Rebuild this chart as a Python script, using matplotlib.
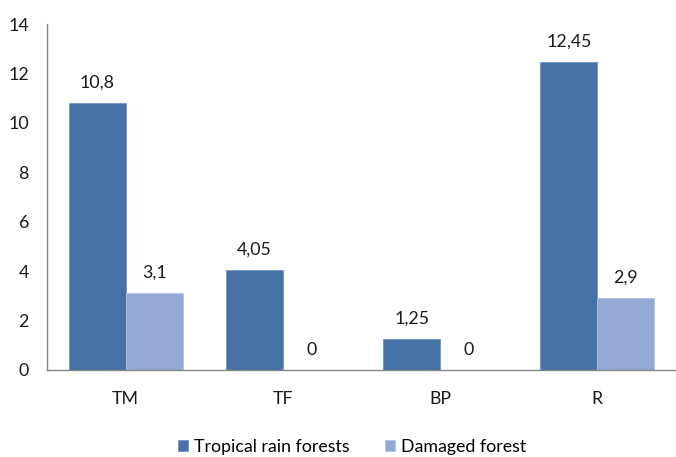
import matplotlib.pyplot as plt
import numpy as np

plt.rcParams['font.family'] = ['Lato', 'DejaVu Sans']

categories = ['TM', 'TF', 'BP', 'R']
rain_forest = [10.8, 4.05, 1.25, 12.45]
damaged = [3.1, 0, 0, 2.9]
rain_labels = ['10,8', '4,05', '1,25', '12,45']
damaged_labels = ['3,1', '0', '0', '2,9']

fig = plt.figure(figsize=(6.76, 4.57), dpi=100)
ax = fig.add_axes([47 / 676, 1 - 370 / 457, 629 / 676, 346 / 457])

x = np.arange(len(categories))
w = 0.363
ax.bar(x - w / 2, rain_forest, w, color='#4672A8', edgecolor='#6F93C0',
       linewidth=0.6, label='Tropical rain forests')
ax.bar(x + w / 2, damaged, w, color='#94AAD2', edgecolor='#B3C4E2',
       linewidth=0.6, label='Damaged forest')

# value labels above each bar
for xi, v, s in zip(x - w / 2, rain_forest, rain_labels):
    ax.text(xi, v + 0.5, s, ha='center', va='bottom', fontsize=12.8, color='#1a1a1a')
for xi, v, s in zip(x + w / 2, damaged, damaged_labels):
    ax.text(xi, v + 0.5, s, ha='center', va='bottom', fontsize=12.8, color='#1a1a1a')

ax.set_xlim(-0.5, 3.5)
ax.set_ylim(0, 14)
ax.set_yticks(range(0, 15, 2))
ax.set_xticks(x)
ax.set_xticklabels(categories)
ax.tick_params(axis='both', length=0, labelsize=12.8, colors='#1a1a1a')
ax.tick_params(axis='x', pad=15)
ax.tick_params(axis='y', pad=13)
for side in ['top', 'right']:
    ax.spines[side].set_visible(False)
for side in ['left', 'bottom']:
    ax.spines[side].set_color('#868686')
    ax.spines[side].set_linewidth(1)

ax.legend(loc='center', bbox_to_anchor=(0.485, -0.222), ncol=2, frameon=False,
          fontsize=12.8, handlelength=0.55, handleheight=0.55, handletextpad=0.35,
          columnspacing=2.0)

fig.savefig('out.png', dpi=100)
